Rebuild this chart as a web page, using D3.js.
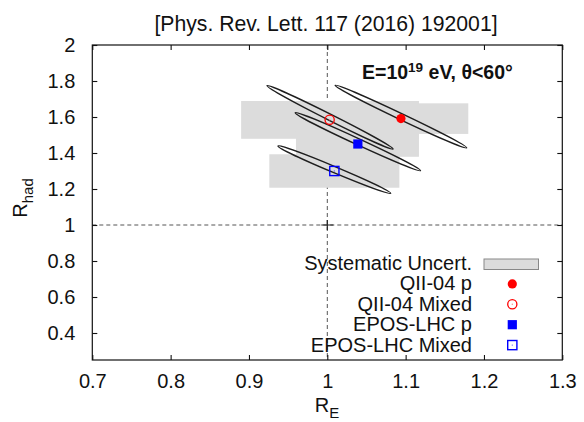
<!DOCTYPE html>
<html><head><meta charset="utf-8">
<script src="https://cdn.jsdelivr.net/npm/d3@7"></script>
<style>
body{margin:0;background:#fff}
svg{display:block}
text{font-family:"Liberation Sans",Arial,Helvetica,sans-serif;fill:#111}
</style>
</head><body>
<svg id="c" width="584" height="422"></svg>
<script>
// ---- data ----
const xTicks = [0.7, 0.8, 0.9, 1.0, 1.1, 1.2, 1.3];
const yTicks = [0.4, 0.6, 0.8, 1.0, 1.2, 1.4, 1.6, 1.8, 2.0];
const series = ["QII-04 p", "QII-04 Mixed", "EPOS-LHC p", "EPOS-LHC Mixed"];
const pointRE   = [1.094, 1.003, 1.039, 1.009];
const pointRhad = [1.591, 1.585, 1.450, 1.300];
// systematic uncertainty boxes
const sysRElo   = [1.008, 0.890, 0.960, 0.926];
const sysREhi   = [1.180, 1.117, 1.117, 1.092];
const sysRhadLo = [1.506, 1.479, 1.379, 1.207];
const sysRhadHi = [1.676, 1.689, 1.521, 1.393];
// statistical ellipses: end points of the major axis, half width (R_had units)
const ellRE1   = [1.010, 0.923, 0.959, 0.937];
const ellRhad1 = [1.776, 1.774, 1.624, 1.439];
const ellRE2   = [1.178, 1.084, 1.119, 1.081];
const ellRhad2 = [1.429, 1.422, 1.302, 1.176];
const ellHalfWidth = [0.017, 0.017, 0.017, 0.017];
const refPoint = [1.0, 1.0];

// ---- layout ----
const m = {l: 92.3, r: 562.3, t: 45, b: 360};
const svg = d3.select("#c");
const x = d3.scaleLinear().domain([0.7, 1.3]).range([m.l, m.r]);
const y = d3.scaleLinear().domain([0.25, 2.0]).range([m.b, m.t]);
const RED = "#ff0000", BLUE = "#0000ff", GRAY = "#dcdcdc";

// reference dashed lines
svg.append("line").attr("x1", x(refPoint[0])).attr("x2", x(refPoint[0]))
  .attr("y1", m.t).attr("y2", m.b)
  .attr("stroke", "#555").attr("stroke-width", 1).attr("stroke-dasharray", "4,3");
svg.append("line").attr("x1", m.l).attr("x2", m.r)
  .attr("y1", y(refPoint[1])).attr("y2", y(refPoint[1]))
  .attr("stroke", "#555").attr("stroke-width", 1).attr("stroke-dasharray", "4,3");
svg.append("path")
  .attr("d", `M${x(refPoint[0]) - 6},${y(refPoint[1])}h12M${x(refPoint[0])},${y(refPoint[1]) - 5}v10`)
  .attr("stroke", "#222").attr("stroke-width", 1.2);

// systematic boxes
svg.append("g").selectAll("rect").data(series).join("rect")
  .attr("x", (d, i) => x(sysRElo[i]))
  .attr("width", (d, i) => x(sysREhi[i]) - x(sysRElo[i]))
  .attr("y", (d, i) => y(sysRhadHi[i]))
  .attr("height", (d, i) => y(sysRhadLo[i]) - y(sysRhadHi[i]))
  .attr("fill", GRAY);

// ellipses
svg.append("g").selectAll("ellipse").data(series).join("ellipse")
  .each(function (d, i) {
    const x1 = x(ellRE1[i]), y1 = y(ellRhad1[i]), x2 = x(ellRE2[i]), y2 = y(ellRhad2[i]);
    const cx = (x1 + x2) / 2, cy = (y1 + y2) / 2;
    const rx = Math.hypot(x2 - x1, y2 - y1) / 2;
    const ry = Math.abs(y(1 + ellHalfWidth[i]) - y(1));
    const ang = Math.atan2(y2 - y1, x2 - x1) * 180 / Math.PI;
    d3.select(this).attr("cx", cx).attr("cy", cy).attr("rx", rx).attr("ry", ry)
      .attr("transform", `rotate(${ang},${cx},${cy})`);
  })
  .attr("fill", "none").attr("stroke", "#1e1e1e").attr("stroke-width", 1.4);

// markers
function marker(g, k, cx, cy) {
  if (k === 0) {
    g.append("circle").attr("cx", cx).attr("cy", cy).attr("r", 4.6).attr("fill", RED);
  } else if (k === 1) {
    g.append("circle").attr("cx", cx).attr("cy", cy).attr("r", 4.6).attr("fill", "none")
      .attr("stroke", RED).attr("stroke-width", 1.3);
    g.append("circle").attr("cx", cx).attr("cy", cy).attr("r", 0.7).attr("fill", "#f88");
  } else if (k === 2) {
    g.append("rect").attr("x", cx - 4.6).attr("y", cy - 4.6).attr("width", 9.2).attr("height", 9.2).attr("fill", BLUE);
  } else {
    g.append("rect").attr("x", cx - 4.6).attr("y", cy - 4.6).attr("width", 9.2).attr("height", 9.2)
      .attr("fill", "none").attr("stroke", BLUE).attr("stroke-width", 1.4);
    g.append("circle").attr("cx", cx).attr("cy", cy).attr("r", 0.7).attr("fill", "#66f");
  }
}
const mg = svg.append("g");
series.forEach((s, i) => marker(mg, i, x(pointRE[i]), y(pointRhad[i])));

// frame
svg.append("rect").attr("x", m.l).attr("y", m.t).attr("width", m.r - m.l).attr("height", m.b - m.t)
  .attr("fill", "none").attr("stroke", "#111").attr("stroke-width", 1.2);

// axes (inward ticks)
const fmt = d => d3.format("~g")(d);
function styleAxis(g) {
  g.select(".domain").remove();
  g.selectAll("line").attr("stroke", "#111").attr("stroke-width", 1.1);
  g.selectAll("text").style("font-size", "20px").attr("fill", "#111");
}
svg.append("g").attr("transform", `translate(0,${m.b})`)
  .call(d3.axisBottom(x).tickValues(xTicks).tickFormat(fmt).tickSizeInner(-5).tickPadding(14))
  .call(styleAxis);
svg.append("g").attr("transform", `translate(0,${m.t})`)
  .call(d3.axisTop(x).tickValues(xTicks).tickFormat("").tickSizeInner(-5))
  .call(styleAxis);
svg.append("g").attr("transform", `translate(${m.l},0)`)
  .call(d3.axisLeft(y).tickValues(yTicks).tickFormat(fmt).tickSizeInner(-5).tickPadding(17))
  .call(styleAxis);
svg.append("g").attr("transform", `translate(${m.r},0)`)
  .call(d3.axisRight(y).tickValues(yTicks).tickFormat("").tickSizeInner(-5))
  .call(styleAxis);

// axis titles
const xl = svg.append("text").attr("x", 327).attr("y", 412).attr("text-anchor", "middle").style("font-size", "20px");
xl.append("tspan").text("R");
xl.append("tspan").attr("dy", 6).style("font-size", "15px").text("E");
const yl = svg.append("text").attr("transform", "translate(27,198) rotate(-90)").attr("text-anchor", "middle").style("font-size", "20px");
yl.append("tspan").text("R");
yl.append("tspan").attr("dy", 6).style("font-size", "15px").text("had");

// title
svg.append("text").attr("x", 326).attr("y", 31).attr("text-anchor", "middle")
  .style("font-size", "21.2px").text("[Phys. Rev. Lett. 117 (2016) 192001]");

// energy label
const el = svg.append("text").attr("x", 362).attr("y", 79).style("font-size", "19.5px").style("font-weight", "bold");
el.append("tspan").text("E=10");
el.append("tspan").attr("dy", -7).style("font-size", "13.5px").text("19");
el.append("tspan").attr("dy", 7).text(" eV, θ<60°");

// legend
const legY = [270, 290.4, 310.8, 331.2, 351.6];
const legG = svg.append("g");
legG.append("text").attr("x", 472).attr("y", legY[0]).attr("text-anchor", "end").style("font-size", "20px").text("Systematic Uncert.");
legG.append("rect").attr("x", 484).attr("y", legY[0] - 11).attr("width", 54.5).attr("height", 10.5)
  .attr("fill", GRAY).attr("stroke", "#888").attr("stroke-width", 1);
series.forEach((s, i) => {
  legG.append("text").attr("x", 472).attr("y", legY[i + 1]).attr("text-anchor", "end").style("font-size", "20px").text(s);
  marker(legG, i, 512.3, legY[i + 1] - 6.5);
});
</script>
</body></html>
